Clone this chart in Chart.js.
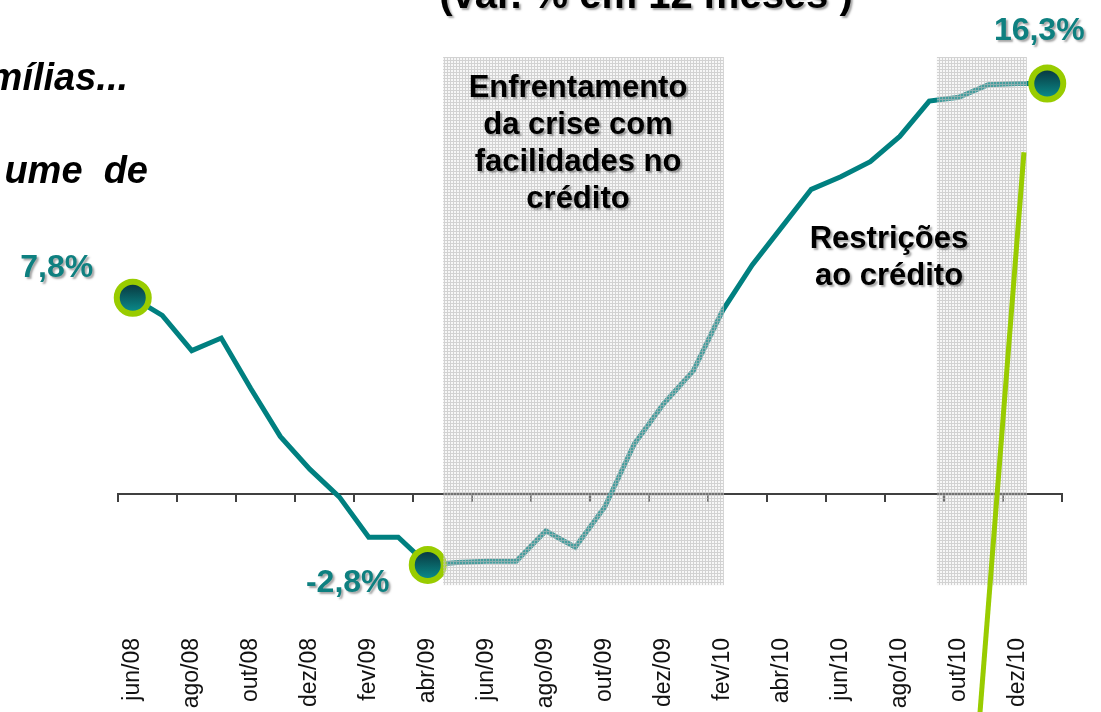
<!DOCTYPE html>
<html>
<head>
<meta charset="utf-8">
<script src="https://cdn.jsdelivr.net/npm/chart.js@4.4.0/dist/chart.umd.min.js"></script>
<style>
  html, body { margin: 0; padding: 0; background: #fff; overflow: hidden; }
  #wrap { width: 1101px; height: 712px; position: relative; }
</style>
</head>
<body>
<div id="wrap"><canvas id="creditChart" width="1101" height="712"></canvas></div>
<script>
// monthly categories, jun/08 .. jan/11
const months = ['jun/08','jul/08','ago/08','set/08','out/08','nov/08','dez/08','jan/09','fev/09','mar/09',
  'abr/09','mai/09','jun/09','jul/09','ago/09','set/09','out/09','nov/09','dez/09','jan/10','fev/10',
  'mar/10','abr/10','mai/10','jun/10','jul/10','ago/10','set/10','out/10','nov/10','dez/10','jan/11'];

// var. % em 12 meses
const creditGrowth = [7.8, 7.1, 5.7, 6.2, 4.2, 2.3, 1.0, -0.1, -1.7, -1.7,
  -2.8, -2.7, -2.65, -2.65, -1.45, -2.1, -0.5, 2.0, 3.6, 4.9, 7.3,
  9.1, 10.6, 12.1, 12.6, 13.2, 14.2, 15.6, 15.75, 16.25, 16.3, 16.3];

const highlightIdx = [0, 10, 31];
const highlightText = ['7,8%', '-2,8%', '16,3%'];

// shaded periods, in month-index units, and their vertical extent (%)
const shadeStart = [10.52, 27.26];
const shadeEnd = [20.04, 30.31];
const shadeLow = -3.6;
const shadeHigh = 17.35;

// stray green segment of the original slide
const limeX = [30.21, 28.72];
const limeY = [13.57, -8.65];

const FONT = "'Liberation Sans', Arial, Helvetica, sans-serif";
Chart.defaults.font.family = FONT;

// hatch pattern used for the shaded periods
function makeHatch() {
  const c = document.createElement('canvas');
  c.width = 3; c.height = 3;
  const g = c.getContext('2d');
  g.fillStyle = 'rgba(230,230,230,0.3)';
  g.fillRect(0, 0, 3, 3);
  g.fillStyle = 'rgba(185,185,185,0.6)';
  g.fillRect(0, 0, 3, 1);
  g.fillRect(0, 1, 1, 2);
  return c;
}
const hatchTile = makeHatch();

function markerFill(ctx) {
  const chart = ctx.chart;
  const ys = chart.scales.y;
  if (!ys || !ctx.parsed) return '#006b70';
  const py = ys.getPixelForValue(ctx.parsed.y);
  if (!isFinite(py)) return '#006b70';
  const g = chart.ctx.createLinearGradient(0, py - 13, 0, py + 13);
  g.addColorStop(0, '#093a42');
  g.addColorStop(1, '#0a8888');
  return g;
}

function shadowText(ctx, txt, x, y, font, color, align) {
  ctx.save();
  ctx.font = font;
  ctx.textAlign = align || 'center';
  ctx.textBaseline = 'alphabetic';
  ctx.shadowColor = 'rgba(0,0,0,0.35)';
  ctx.shadowOffsetX = 2;
  ctx.shadowOffsetY = 2;
  ctx.shadowBlur = 2;
  ctx.fillStyle = color;
  ctx.fillText(txt, x, y);
  ctx.restore();
}

// label offsets from each highlighted point
const labelDx = [-76, -80, -8];
const labelDy = [-21, 27, -43];

const overlay = {
  id: 'overlay',
  afterDatasetDraw(chart, args) {
    if (args.index !== 0) return;
    const ctx = chart.ctx;
    const xs = chart.scales.xl, ys = chart.scales.y;
    ctx.save();
    ctx.fillStyle = ctx.createPattern(hatchTile, 'repeat');
    for (let i = 0; i < shadeStart.length; i++) {
      const x0 = xs.getPixelForValue(shadeStart[i]);
      const x1 = xs.getPixelForValue(shadeEnd[i]);
      const y0 = ys.getPixelForValue(shadeHigh);
      const y1 = ys.getPixelForValue(shadeLow);
      ctx.fillRect(x0, y0, x1 - x0, y1 - y0);
    }
    ctx.restore();
  },
  afterDatasetsDraw(chart) {
    const ctx = chart.ctx;
    const meta = chart.getDatasetMeta(0);
    const bold32 = 'bold 32px ' + FONT;
    highlightIdx.forEach((idx, k) => {
      const p = meta.data[idx];
      shadowText(ctx, highlightText[k], p.x + labelDx[k], p.y + labelDy[k], bold32, '#0e8080');
    });

    const bold31 = 'bold 31px ' + FONT;
    ['Enfrentamento', 'da crise com', 'facilidades no', 'crédito'].forEach((t, i) => {
      shadowText(ctx, t, 578, 97 + i * 37, bold31, '#000');
    });
    ['Restrições', 'ao crédito'].forEach((t, i) => {
      shadowText(ctx, t, 889, 248 + i * 37, bold31, '#000');
    });

    // pieces of the surrounding slide
    shadowText(ctx, '(var. % em 12 meses )', 646, 8, 'bold 40px ' + FONT, '#000');
    ctx.save();
    ctx.font = 'italic bold 38px ' + FONT;
    ctx.fillStyle = '#000';
    ctx.textAlign = 'right';
    ctx.fillText('mílias...', 128, 90);
    ctx.fillText('ume  de', 148, 183);
    ctx.restore();
  }
};

new Chart(document.getElementById('creditChart'), {
  type: 'line',
  data: {
    labels: months,
    datasets: [{
      data: creditGrowth,
      xAxisID: 'x',
      borderColor: '#008080',
      borderWidth: 5,
      tension: 0,
      clip: false,
      order: 2,
      pointRadius: ctx => highlightIdx.includes(ctx.dataIndex) ? 16 : 0,
      pointHoverRadius: ctx => highlightIdx.includes(ctx.dataIndex) ? 16 : 0,
      pointBorderWidth: 6,
      pointBorderColor: '#99cc00',
      pointBackgroundColor: markerFill
    }, {
      data: limeX.map((x, i) => ({ x: x, y: limeY[i] })),
      xAxisID: 'xl',
      borderColor: '#99cc00',
      borderWidth: 5,
      pointRadius: 0,
      clip: false,
      order: 1
    }]
  },
  options: {
    responsive: false,
    animation: false,
    layout: { padding: { left: 118, right: 39, top: 28, bottom: 0 } },
    plugins: { legend: { display: false }, tooltip: { enabled: false } },
    scales: {
      x: {
        type: 'category',
        offset: true,
        position: { y: 0 },
        grid: {
          offset: true,
          drawOnChartArea: false,
          drawTicks: true,
          tickLength: 7,
          lineWidth: 2,
          color: ctx => (ctx.index === undefined || ctx.index % 2 === 0) ? '#404040' : 'rgba(0,0,0,0)'
        },
        border: { display: true, color: '#404040', width: 2 },
        ticks: { display: false, autoSkip: false }
      },
      x2: {
        type: 'category',
        labels: months,
        offset: true,
        position: 'bottom',
        grid: { display: false, drawTicks: false },
        border: { display: false },
        ticks: {
          autoSkip: false,
          maxRotation: 90,
          minRotation: 90,
          padding: 5,
          color: '#111',
          font: { size: 23 },
          callback: (v, i) => i % 2 === 0 ? months[i] : ''
        },
        afterFit: s => { s.height = 79; }
      },
      xl: { type: 'linear', display: false, min: -0.5, max: months.length - 0.5 },
      y: { display: false, min: -5.5, max: 18.5 }
    }
  },
  plugins: [overlay]
});
</script>
</body>
</html>
